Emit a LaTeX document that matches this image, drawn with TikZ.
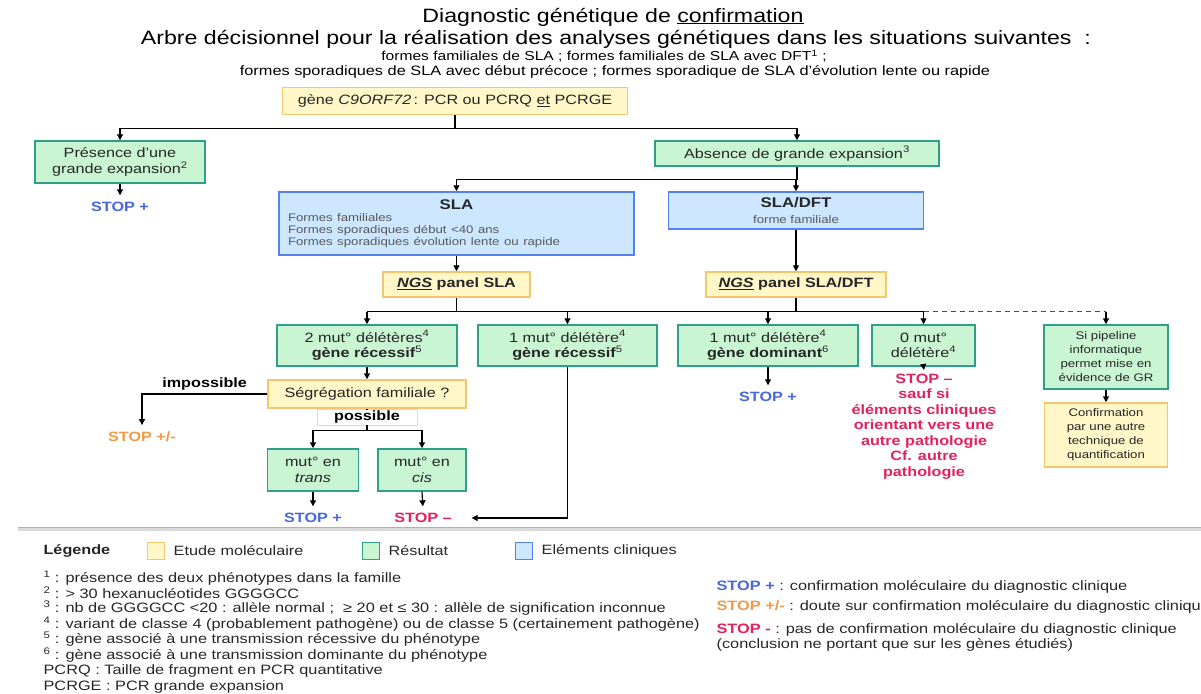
\documentclass[tikz,border=0pt]{standalone}
\usepackage{fontspec}
\setmainfont{Liberation Sans}[FakeStretch=1.2]
\usepackage{tikz}
\usetikzlibrary{positioning, arrows.meta}

\definecolor{etudefill}{HTML}{FFF7C8}
\definecolor{etudedraw}{HTML}{F2C76E}
\definecolor{resfill}{HTML}{C9F5D3}
\definecolor{resdraw}{HTML}{2F9E8A}
\definecolor{clifill}{HTML}{CCE7FF}
\definecolor{clidraw}{HTML}{5582F0}
\definecolor{stopbleu}{HTML}{4767DE}
\definecolor{stoporange}{HTML}{EE9A48}
\definecolor{stoprose}{HTML}{E2225E}

\newcommand{\titrefont}{\fontsize{19.3}{22}\selectfont}
\newcommand{\boxfont}{\fontsize{13.5}{15.5}\selectfont}
\newcommand{\petitfont}{\fontsize{11}{14}\selectfont}
\newcommand{\notefont}{\fontsize{13.6}{15}\selectfont}

\begin{document}
\begin{tikzpicture}[x=1pt, y=-1pt, line width=1.2pt, >={Triangle[length=6pt,width=6pt]},
  boite/.style={draw, line width=1.5pt, inner sep=2pt, align=center, font=\boxfont, text=black!85},
  etude/.style={boite, draw=etudedraw, fill=etudefill},
  resultat/.style={boite, draw=resdraw, fill=resfill},
  clinique/.style={boite, draw=clidraw, fill=clifill},
  stopplus/.style={font=\boxfont\bfseries, text=stopbleu},
  stopdoute/.style={font=\boxfont\bfseries, text=stoporange},
  stopmoins/.style={font=\boxfont\bfseries, text=stoprose},
  carre/.style={draw, line width=1.2pt, minimum size=17pt, inner sep=0pt},
  note/.style={anchor=west, font=\notefont, inner sep=0pt, text=black!85}]
\useasboundingbox (0,0) rectangle (1201,693);

% titre
\node[font=\titrefont] at (613,17) (titre1) {Diagnostic génétique de \underline{confirmation}};
\node[font=\titrefont] at (616,39) (titre2) {Arbre décisionnel pour la réalisation des analyses génétiques dans les situations suivantes\ \ :};
\node[font=\fontsize{13}{15}\selectfont] at (604,56) (sous1) {formes familiales de SLA ; formes familiales de SLA avec DFT\textsuperscript{1} ;};
\node[font=\fontsize{13.6}{15}\selectfont] at (615,72) (sous2) {formes sporadiques de SLA avec début précoce ; formes sporadique de SLA d'évolution lente ou rapide};

% arbre
\node[etude, minimum width=345, minimum height=27] at (455,101) (gene) {gène \textit{C9ORF72}\,: PCR ou PCRQ \underline{et} PCRGE};
\node[resultat, minimum width=170, minimum height=42] at (120,162) (presence) {Présence d'une\\grande expansion\textsuperscript{2}};
\node[resultat, minimum width=284, minimum height=25] at (797,153.5) (absence) {Absence de grande expansion\textsuperscript{3}};
\node[stopplus] at (120,207) (stop1) {STOP +};

\node[clinique, minimum width=355, minimum height=63, text width=337, align=left] at (456.5,223.5) (sla) {{\centering\fontsize{14}{16}\selectfont\bfseries SLA\par}{\fontsize{11}{12}\selectfont\color{black!65}Formes familiales\\Formes sporadiques début <40 ans\\Formes sporadiques évolution lente ou rapide\par}};
\node[clinique, minimum width=255, minimum height=37] at (796,210.5) (sladft) {{\fontsize{14}{16}\selectfont\bfseries SLA/DFT}\\{\fontsize{11}{12}\selectfont\color{black!65}forme familiale}};

\node[etude, minimum width=147, minimum height=25, font=\boxfont\bfseries] at (456.5,284.5) (ngssla) {\underline{\textit{NGS}} panel SLA};
\node[etude, minimum width=180, minimum height=25, font=\boxfont\bfseries] at (796,284.5) (ngsdft) {\underline{\textit{NGS}} panel SLA/DFT};

\node[resultat, minimum width=180, minimum height=41] at (367,345.5) (mut2) {2 mut° délétères\textsuperscript{4}\\\textbf{gène récessif}\textsuperscript{5}};
\node[resultat, minimum width=179, minimum height=41] at (567.5,345.5) (mut1r) {1 mut° délétère\textsuperscript{4}\\\textbf{gène récessif}\textsuperscript{5}};
\node[resultat, minimum width=180, minimum height=41] at (768,345.5) (mut1d) {1 mut° délétère\textsuperscript{4}\\\textbf{gène dominant}\textsuperscript{6}};
\node[resultat, minimum width=103, minimum height=41] at (923.5,345.5) (mut0) {0 mut°\\délétère\textsuperscript{4}};
\node[resultat, minimum width=124, minimum height=64, font=\petitfont] at (1106,357) (pipeline) {Si pipeline\\informatique\\permet mise en\\évidence de GR};
\node[etude, minimum width=123, minimum height=64, font=\petitfont] at (1106,435) (confirm) {Confirmation\\par une autre\\technique de\\quantification};

\node[etude, minimum width=198, minimum height=28] at (367,394) (segr) {Ségrégation familiale ?};
\node[draw=black!15, line width=0.6pt, fill=white, minimum width=100, minimum height=16, inner sep=0pt, font=\boxfont\bfseries] at (367,417) (possible) {possible};
\node[resultat, minimum width=91, minimum height=42] at (313,470) (trans) {mut° en\\\textit{trans}};
\node[resultat, minimum width=88, minimum height=42] at (422,470) (cis) {mut° en\\\textit{cis}};

\node[stopdoute] at (142,437) (stop2) {STOP +/-};
\node[stopplus] at (313,518) (stop3) {STOP +};
\node[stopmoins] at (423,518) (stop4) {STOP –};
\node[stopplus] at (768,397) (stop5) {STOP +};
\node[stopmoins, align=center, anchor=north] at (924,370) (stop6) {STOP –\\sauf si\\éléments cliniques\\orientant vers une\\autre pathologie\\Cf. autre\\pathologie};

% liens
\draw[->] (gene.south) -- ++(0,13) -| (presence.north);
\draw[->] (gene.south) -- ++(0,13) -| (absence.north);
\draw[->, shorten >=3pt] (presence.south) -- (stop1.north);
\draw[->] (absence.south) -- ++(0,13) -| (sla.north);
\draw[->] (absence.south) -- ++(0,13) -| (sladft.north);
\draw[->] (sla.south) -- (ngssla.north);
\draw[->] (sladft.south) -- (ngsdft.north);

\draw (ngssla.south) -- ++(0,14) coordinate (bus);
\draw (ngsdft.south) -- (ngsdft.south |- bus);
\draw (mut2.north |- bus) -- (mut0.north |- bus);
\draw[dash pattern=on 5pt off 4pt, line width=1pt, black!70] (mut0.north |- bus) -- (pipeline.north |- bus);
\draw[->] (mut2.north |- bus) -- (mut2.north);
\draw[->] (mut1r.north |- bus) -- (mut1r.north);
\draw[->] (mut1d.north |- bus) -- (mut1d.north);
\draw[->] (mut0.north |- bus) -- (mut0.north);
\draw[->] (pipeline.north |- bus) -- (pipeline.north);

\draw[->] (mut2.south) -- (segr.north);
\draw[->, shorten >=3pt] (segr.west) -| node[above, pos=0.25, font=\boxfont\bfseries] (impossible) {impossible} (stop2.north);
\draw (segr.south) -- (possible.north);
\draw (possible.south) -- ++(0,5) coordinate (bus2);
\draw[->] (bus2) -| (trans.north);
\draw[->] (bus2) -| (cis.north);
\draw[->, shorten >=3pt] (trans.south) -- (stop3.north);
\draw[->, shorten >=3pt] (cis.south) -- (stop4.north);
\draw[->] (mut1r.south) |- ([xshift=16pt]stop4.east);
\draw[->, shorten >=3pt] (mut1d.south) -- (stop5.north);
\draw[->] (mut0.south) -- (stop6.north);
\draw[->] (pipeline.south) -- (confirm.north);

% separation
\draw[line width=3pt, black!15] (18,529) -- (1201,529);
\draw[line width=1pt, black!30] (18,527) -- (1201,527);

% legende
\node[anchor=west, inner sep=0pt, font=\boxfont\bfseries, text=black!85] at (43,551) (legende) {Légende};
\node[carre, draw=etudedraw, fill=etudefill] at (156,551) (carre1) {};
\node[note, font=\boxfont, right=8pt of carre1] (leg1) {Etude moléculaire};
\node[carre, draw=resdraw, fill=resfill] at (371,551) (carre2) {};
\node[note, font=\boxfont, right=8pt of carre2] (leg2) {Résultat};
\node[carre, draw=clidraw, fill=clifill] at (524,551) (carre3) {};
\node[note, font=\boxfont, right=8pt of carre3] (leg3) {Eléments cliniques};

\node[note] at (43,578) (n1) {\textsuperscript{1} : présence des deux phénotypes dans la famille};
\node[note] at (43,593) (n2) {\textsuperscript{2} : > 30 hexanucléotides GGGGCC};
\node[note] at (43,608) (n3) {\textsuperscript{3} : nb de GGGGCC <20 : allèle normal ;\ \ ≥ 20 et ≤ 30 : allèle de signification inconnue};
\node[note] at (43,624) (n4) {\textsuperscript{4} : variant de classe 4 (probablement pathogène) ou de classe 5 (certainement pathogène)};
\node[note] at (43,639) (n5) {\textsuperscript{5} : gène associé à une transmission récessive du phénotype};
\node[note] at (43,655) (n6) {\textsuperscript{6} : gène associé à une transmission dominante du phénotype};
\node[note] at (43,671) (n7) {PCRQ : Taille de fragment en PCR quantitative};
\node[note] at (43,687) (n8) {PCRGE : PCR grande expansion};

\node[note] at (716,587) (s1) {\textbf{\color{stopbleu}STOP +} : confirmation moléculaire du diagnostic clinique};
\node[note] at (716,607) (s2) {\textbf{\color{stoporange}STOP +/-} : doute sur confirmation moléculaire du diagnostic clinique};
\node[note, align=left] at (716,637) (s3) {\textbf{\color{stoprose}STOP -} : pas de confirmation moléculaire du diagnostic clinique\\(conclusion ne portant que sur les gènes étudiés)};
\end{tikzpicture}
\end{document}
